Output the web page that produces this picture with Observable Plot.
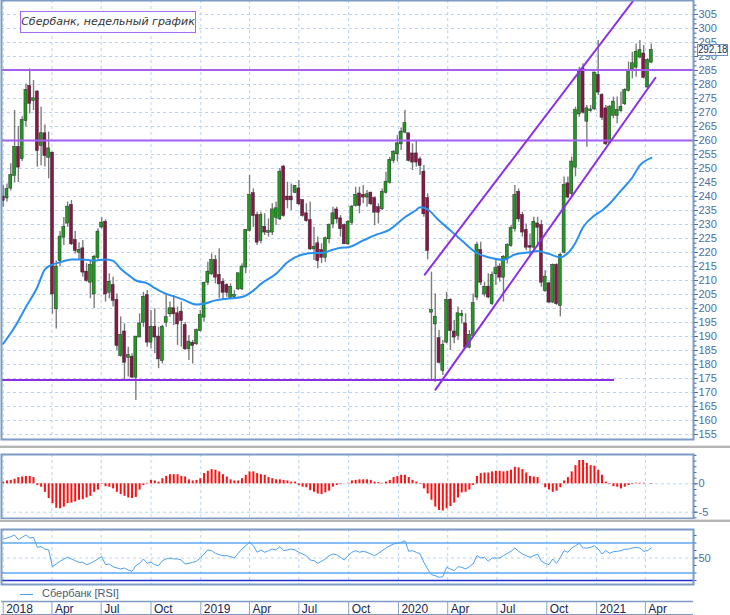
<!DOCTYPE html>
<html><head><meta charset="utf-8">
<script src="https://cdn.jsdelivr.net/npm/d3@7"></script>
<script src="https://cdn.jsdelivr.net/npm/@observablehq/plot@0.6"></script>
<style>
body{margin:0;background:#fff;}
#wrap{position:relative;width:730px;height:615px;overflow:hidden;background:#fff;font-family:"Liberation Sans",Arial,sans-serif;}
#wrap svg{position:absolute;left:0;overflow:visible;}
.sep{position:absolute;left:0;width:730px;}
#title{position:absolute;left:20px;top:11px;width:176px;height:22px;box-sizing:border-box;border:1.5px solid #a66cf0;background:#fff;
 font:italic 11px "DejaVu Sans",sans-serif;color:#333;text-align:center;line-height:19px;white-space:nowrap;}
#price{position:absolute;left:697px;width:31px;height:12px;box-sizing:border-box;border:1px solid #6d8fbf;background:#fff;
 font:10px "Liberation Sans",Arial,sans-serif;color:#1d2d4d;text-align:center;line-height:10px;letter-spacing:-0.2px;}
#legend{position:absolute;left:20px;top:587px;font:11px "Liberation Sans",Arial,sans-serif;color:#4a5a70;white-space:nowrap;}
#legend span.l{display:inline-block;width:13px;height:0;border-top:1px solid #4da0f0;vertical-align:middle;margin-right:9px;}
</style></head><body><div id="wrap"></div>
<script>
// ---- weekly candles, first week starts 2018-01-01 ----
const open = [
239.8,239.5,243,247.5,257.5,253.5,267.1,279.3,274.3,277.3,
258.2,262.4,254,255.5,199.9,217.1,225.5,230.5,236.8,224.3,
220.1,221.3,213,209.4,205.2,218.3,229.1,230.8,205.8,208.2,
202.9,183.2,191.6,182.6,182.6,175.5,189.8,195.1,204.6,188,
193.3,189.8,181.4,195.1,198.1,199.9,198.1,198.7,193.9,185.6,
187.6,187.4,192.1,196.9,209.4,212.4,217.1,211.8,209.4,208.2,
204,204.3,207,207,214.8,227.9,241,233.2,224.3,229,
227.2,227.3,232.6,232,250.5,239.8,239.8,241.5,242.7,238.6,
233.8,231.4,221.3,223.1,220.7,218.3,224.9,230.2,235.2,232,
229.6,223.1,230.8,236.8,240.9,240.4,239.8,241.2,239.2,236,
235.6,241.5,245.1,252.9,255.2,258.8,263,262.4,255.2,255.2,
253.1,248.7,239.2,198.7,194.5,189.2,177.9,188,202.9,191.6,
190.4,197.5,194.5,186.2,190.4,204.1,220.7,205.2,207.6,201.7,
212.4,214.8,211.2,217.7,222.5,228.5,241.5,233.2,227.9,222.1,
221.9,230.2,229.6,206.4,208.8,202.3,215.4,201.1,220.1,244.5,
241,250.5,269.5,285.6,266.9,270.7,271.3,283.2,276.1,271.3,
259.4,269,269,270.7,273.1,277.9,285.6,286.2,289.8,290.9,
279.1,288];
const high = [
244,244.5,251.7,270.7,265,268.5,280.2,285.5,281.4,277.8,
271.9,265.5,263,255.8,217,227.5,232.5,238,238.6,227.5,
223.5,224.3,216,217.1,218.9,228.5,232.4,231.7,212.4,211.2,
205.2,197,194.5,186.2,183.8,189.8,198.1,205.8,206.4,199.3,
199.9,193.3,194,205.2,202.3,204.6,200.5,202.3,195,190.4,
188.6,192.7,199.3,209.4,216.5,219.5,218.9,221.3,210.6,208.8,
208.8,206.4,212.6,216,228.1,247.5,242.7,234.4,234.4,233.8,
232,237.4,238,249.9,251.1,245.1,244.5,243.9,245.7,238.6,
237.4,238,229,225.5,223.1,225.5,230.2,236.2,236.2,233.2,
230.2,231.4,236.8,243.3,243.3,243.9,242.1,241.5,239.8,237.4,
242.7,248.7,254,256.4,261.8,264.5,270.7,262.6,258.8,260,
254,251.1,241,213,205.3,192.1,188.6,205.8,203.5,195.7,
200.5,199.3,198.1,192.1,205.2,223.7,223.7,209.4,212.4,213,
217.1,216,218.9,223.1,229.6,243.9,242.7,234.4,230.2,226.6,
232.6,232.6,231.4,213.5,209.4,215.9,216,219.6,247,247,
254.1,271.9,286.2,287.4,272.5,272.5,284.4,295.7,276.7,272.5,
272.5,275.5,275.5,277.3,278.5,288,291.5,294.5,295.7,293.9,
289.2,294.5];
const low = [
236.2,238,242,245,245,252.5,264.8,269.5,270.7,250.5,
251,250.5,246.3,198,192.7,214.8,222.5,229,222.5,219.5,
217.2,211.2,209.4,203.5,200,217.1,228.4,202.3,203.5,200.5,
185,182.6,174.3,175.5,174.9,167.1,189.8,193.3,186.2,185.6,
183.8,178.5,180.2,193.3,196.9,193.9,186.8,186.2,185,181.4,
180.2,186.8,191.6,195.1,208.2,211.8,208.8,203.5,202.9,204,
203.5,203.5,206.4,206.4,212.4,227.3,229,222.5,223.1,226.1,
225.5,226.1,229.6,231.4,232.6,235.6,235,241,236.8,232.6,
230.8,220.7,217.1,214.2,216,216.5,223.1,228.5,230.2,225.5,
223.1,222.5,229.6,236.2,233.8,237.4,236.2,236.8,229.6,230.2,
235,240.9,244.5,251.7,252.3,256.4,262.4,252.3,249.3,250.5,
247.5,232.6,217.4,174.3,173.7,180.2,176.1,187.4,185,187.4,
188.6,194.5,185.6,185.6,189.8,202.9,208.2,204.1,203.5,201.1,
208.2,209.4,202.3,215.9,221.9,227.3,230.8,225.5,220.7,218.3,
220.7,221.9,207.6,205.8,201.7,201.7,201.1,197,219.5,239.2,
239.8,247,268.3,269.5,257.6,270.1,270.7,276.1,267.1,258.2,
258.8,267.8,266,270.1,272.5,277.3,282,282.6,289.2,282,
278.5,287.4];
const close = [
238.6,242.5,247.5,257.5,250.5,267.1,277.9,273.3,274.9,256.4,
262.4,254.6,257,205.2,214.8,225.5,229,236.2,223.1,220.7,
220.7,213,210,215.4,218.3,227.3,230.5,205.2,209.4,202.9,
186.8,190.4,180.8,183.2,175.5,189.8,194.5,204,188,193.3,
189.8,182,193.3,196.7,199.9,198.1,194.5,195.7,185.6,188,
186.8,192.1,197.5,209,213,217.1,211.2,208.8,205.8,205.8,
207.6,204.6,212.4,214.8,227.9,240.4,233.2,223.7,233.2,227.3,
227.6,235.2,235.6,248.7,233.2,238.8,238.8,243.6,237.4,233.2,
231.4,221.3,221.9,217.1,218.3,224.9,229.6,233.8,232,228.5,
223.1,230.8,236.2,240.4,236.8,239.8,240.6,237.4,234.4,234.4,
241.5,245.1,252.9,255.8,258.8,263,266,252.9,252.3,252.3,
251.1,233.8,220.7,199.3,196.9,180.8,186.8,202.9,192.1,189.8,
198.1,197.9,186.2,190.4,201.7,222.5,209.4,207.6,204.1,211.8,
214.2,211.2,218.3,222.5,228.5,240.4,232,227.3,221.9,221.9,
230.8,229,209.4,211.2,202.3,215.4,201.7,219,243.9,239.8,
252.3,270.7,285,270.1,271.3,270.9,284.1,277.3,268.3,258.8,
271.9,273.7,270.7,271.9,277.9,285,287.4,291.5,292.1,282.6,
288.6,292.18];

// moving average, read at sample weeks
const maWeek = [0,3,6,9,11,13,15,18,21,24,27,29,31,33,35,38,40,43,46,48,51,53,56,59,63,66,68,72,75,79,
82,84,87,89,91,95,98,102,106,109,110,112,115,118,121,125,128,132,135,139,141,144,147,149,151,153,156,158,160,163,166,168,171];
const maValue = [187.4,193.3,200.5,207.6,214,215.7,216.5,217.5,217.5,217.1,217.5,217,214.2,212,210,209,207.3,205.2,203.9,202.9,
201.4,201.7,202.9,203.5,204.1,206.4,208.8,212.4,216.5,219.3,219.8,219.8,221,221.7,221.9,224.3,226.1,228.2,232.6,235.2,
236.2,235.4,231.4,227.9,224.3,219.8,218.3,217.4,219.3,220.1,220.5,219.5,218.3,219.8,223.5,229,233.2,235,237.4,242.1,
246.8,251.1,253.8];

// oscillator histogram
const osc = [
0.3,0.5,0.6,0.8,1.1,1.2,1.3,1.3,1.1,-0.3,
-0.6,-1.5,-2.6,-3.5,-4.3,-4.4,-4.1,-3.5,-3.4,-3.2,
-2.9,-2.8,-2.5,-2.2,-1.5,-1.1,-0.1,-0.5,-0.6,-0.9,
-1.5,-1.9,-2.2,-2.5,-2.6,-2.4,-1.1,-0.3,0.1,0.6,
0.5,0.3,0.9,1.3,1.6,1.6,1.6,1.3,1.2,0.7,
0.5,0.6,0.9,1.8,2.2,2.5,2.4,2.1,1.6,1.2,
0.7,0.5,0.5,0.9,1.5,2.1,2.1,1.8,1.6,1.5,
1.1,0.9,0.7,0.7,0.6,0.5,0.3,0.3,-0.3,-0.6,
-0.7,-1.2,-1.5,-1.8,-1.9,-1.6,-1.3,-0.6,-0.3,-0.1,
0,0.1,0.5,0.6,0.7,0.7,0.7,0.6,0.3,0.2,
0.1,0.3,0.6,1.1,1.3,1.5,1.5,1.1,0.6,0.3,
-0.1,-0.9,-1.8,-2.9,-4.1,-4.7,-4.8,-4.4,-4.0,-3.4,
-2.5,-1.6,-1.5,-1.1,-0.3,1.3,1.8,1.9,1.9,2.1,
2.2,2.2,2.1,2.2,2.4,2.9,2.8,2.5,1.9,1.3,
1.2,1.1,0,-0.7,-1.1,-1.5,-1.3,-0.7,0.5,1.1,
2.1,3.2,4.1,4.1,3.6,3.2,3.1,2.4,1.5,0.3,
-0.1,-0.5,-0.6,-0.9,-0.6,-0.3,-0.1,0.1,0.1,0.1,
0,-0.1];

// RSI
const rsi = [
75.3,76.7,78.4,80.7,74.4,77.6,80.7,76.7,77.6,64.2,
65.1,62,60.7,38.4,42,45.6,48.7,50.9,48.7,46.4,
44.2,44.2,41.1,42.9,45.6,48.7,51.8,41.1,42,38.4,
36.7,35.3,36.7,34,32.2,39.8,42.9,48.7,42.9,44.2,
41.1,39.8,46.4,48.7,50,48.7,48.7,47.3,42,42.9,
44.2,45.6,50,55.3,60.7,59.8,56.2,54.4,53.1,53.1,
51.8,50,56.2,62,66.4,70.9,66.4,57.6,60.7,57.6,
59.8,62,60.7,65.1,59.8,60.7,62,60.7,57.6,55.3,
53.1,47.3,46.4,42.9,45.6,48.7,53.1,55.3,54.4,50.9,
47.3,53.1,57.6,59.8,57.6,58.9,57.6,55.3,53.1,56.2,
59.8,63.3,66.4,68.7,69.6,70.9,73.1,58.9,59.8,57.6,
55.3,44.2,35.3,27.8,26.4,24.2,25.1,37.6,35.3,33.1,
38.4,37.6,35.3,38.4,42,53.1,50,50.9,45.6,50,
50,50,53.1,56.2,58.9,63.3,58.9,55.3,53.1,50.9,
53.1,55.3,45.6,42.9,41.1,48.7,42.9,50.9,59.8,57.6,
63.3,66.4,69.6,63.3,63.3,64.2,66.4,62,55.3,59.8,
56.2,58.4,58.9,59.8,61.6,62,63.3,64.2,63.3,58.9,
59.8,63.3];

// annotations
const levelPrices = [285.2, 260];
const supportPrice = 174.5, supportWeeks = [-1, 161.3];
const upperChannelWeeks = [111.24, 166.3], upperChannelPrices = [212.1, 310];
const lowerChannelWeeks = [114.06, 172.1], lowerChannelPrices = [171, 282.4];
const lastPriceLabel = "292,18";

// ticks
const tickDates = ["2018-01-01","2018-04-01","2018-07-01","2018-10-01","2019-01-01","2019-04-01","2019-07-01","2019-10-01",
"2020-01-01","2020-04-01","2020-07-01","2020-10-01","2021-01-01","2021-04-01"];
const tickLabels = ["2018","Apr","Jul","Oct","2019","Apr","Jul","Oct","2020","Apr","Jul","Oct","2021","Apr"];
const priceTicks = [155,160,165,170,175,180,185,190,195,200,205,210,215,220,225,230,235,240,245,250,255,260,265,270,275,280,285,290,295,300,305];
const oscTicks = [-6,-5,-4,-3,-2,-1,0,1,2,3,4,5];
const oscLabels = [0,-5];
const rsiTicks = [20,30,40,50,60,70,80];
const rsiLabels = [50];
const rsiLevels = [70,30], rsiFloor = 20;

// ---- build ----
const DAY = 864e5;
const weekDate = i => new Date(Date.UTC(2018,0,1) + i*7*DAY);
const dates = open.map((_, i) => weekDate(i));
const candles = dates.map((d, i) => ({date: d, open: open[i], high: high[i], low: low[i], close: close[i]}));
const halfBody = 2.77 * DAY;
const bodies = candles.map(c => ({...c, x1: new Date(+c.date - halfBody), x2: new Date(+c.date + halfBody)}));
const ups = bodies.filter(c => c.close >= c.open), downs = bodies.filter(c => c.close < c.open);
const ma = maWeek.map((w, i) => ({date: weekDate(w), value: maValue[i]}));
const upper = upperChannelWeeks.map((w, i) => ({date: weekDate(w), value: upperChannelPrices[i]}));
const lower = lowerChannelWeeks.map((w, i) => ({date: weekDate(w), value: lowerChannelPrices[i]}));
const support = [{y: supportPrice, x1: weekDate(supportWeeks[0]), x2: weekDate(supportWeeks[1])}];
const qDates = tickDates.map(s => new Date(s + "T00:00:00Z"));
const minorPrice = d3.range(155, 309, 5/3);
const oscData = dates.map((d, i) => ({date: d, v: osc[i]}));
const rsiData = dates.map((d, i) => ({date: d, v: rsi[i]}));

const xScale = () => ({type: "utc", domain: [weekDate(0), new Date(Date.UTC(2021,0,1))], range: [2.7, 596.1], axis: null});
const baseStyle = {background: "transparent", fontFamily: '"Liberation Sans", Arial, sans-serif', fontSize: "11px", overflow: "visible"};
const frameColor = "#7d9bc4", axisColor = "#4a6fa0", gridColor = "#b9d4f2";
const common = {width: 730, marginLeft: 1, marginRight: 37};
const wrap = document.getElementById("wrap");
const minorAxis = ticks => Plot.axisY(ticks, {anchor: "right", tickSize: 2.5, tickFormat: () => "", color: axisColor, label: null});
const majorAxis = ticks => Plot.axisY(ticks, {anchor: "right", tickSize: 4, tickPadding: 1, color: axisColor, tickFormat: d => String(d), label: null});

const main = Plot.plot({
  ...common, height: 441, marginTop: 0, marginBottom: 2,
  x: xScale(), y: {domain: [155, 305], range: [434, 14], axis: null},
  style: baseStyle,
  marks: [
    Plot.gridY(priceTicks, {stroke: gridColor, strokeOpacity: 1, strokeDasharray: "3,3"}),
    Plot.gridX(qDates, {stroke: gridColor, strokeOpacity: 1, strokeDasharray: "3,3"}),
    Plot.ruleX(candles, {x: "date", y1: "low", y2: "high", stroke: "#7c7c7c", strokeWidth: 1.4}),
    Plot.rect(ups, {x1: "x1", x2: "x2", y1: "open", y2: "close", fill: "#1f9c1f", stroke: "#2a2a2a", strokeWidth: 0.5, insetTop: -0.5, insetBottom: -0.5}),
    Plot.rect(downs, {x1: "x1", x2: "x2", y1: "open", y2: "close", fill: "#8b1547", stroke: "#2a2a2a", strokeWidth: 0.5, insetTop: -0.5, insetBottom: -0.5}),
    Plot.line(ma, {x: "date", y: "value", stroke: "#2a8ff0", strokeWidth: 2, curve: "monotone-x"}),
    Plot.ruleY(levelPrices, {stroke: "#a45ef2", strokeWidth: 2}),
    Plot.ruleY(support, {y: "y", x1: "x1", x2: "x2", stroke: "#8c2ee6", strokeWidth: 2, clip: true}),
    Plot.line(upper, {x: "date", y: "value", stroke: "#8c2ee6", strokeWidth: 2, clip: true}),
    Plot.line(lower, {x: "date", y: "value", stroke: "#8c2ee6", strokeWidth: 2, clip: true}),
    Plot.frame({stroke: frameColor, strokeWidth: 2}),
    minorAxis(minorPrice),
    majorAxis(priceTicks)
  ]
});
main.style.top = "0px";
wrap.appendChild(main);

const oscTop = 453, oscZero = 483.3 - oscTop;
const oscPlot = Plot.plot({
  ...common, height: 66, marginTop: 1, marginBottom: 1,
  x: xScale(), y: {domain: [0, -5], range: [oscZero, oscZero + 28.4], axis: null},
  style: baseStyle,
  marks: [
    Plot.gridY(oscLabels, {stroke: gridColor, strokeOpacity: 1, strokeDasharray: "3,3"}),
    Plot.gridX(qDates, {stroke: gridColor, strokeOpacity: 1, strokeDasharray: "3,3"}),
    Plot.ruleX(oscData, {x: "date", y1: 0, y2: "v", stroke: "#ff1010", strokeWidth: 2}),
    Plot.frame({stroke: frameColor, strokeWidth: 2}),
    minorAxis(oscTicks),
    majorAxis(oscLabels)
  ]
});
oscPlot.style.top = oscTop + "px";
wrap.appendChild(oscPlot);

const rsiTop = 528, rsi50 = 557.5 - rsiTop;
const rsiPlot = Plot.plot({
  ...common, height: 57, marginTop: 1, marginBottom: 1,
  x: xScale(), y: {domain: [50, 70], range: [rsi50, rsi50 - 15], axis: null},
  style: baseStyle,
  marks: [
    Plot.gridY(rsiLabels, {stroke: gridColor, strokeOpacity: 1, strokeDasharray: "3,3"}),
    Plot.gridX(qDates, {stroke: gridColor, strokeOpacity: 1, strokeDasharray: "3,3"}),
    Plot.ruleY(rsiLevels, {stroke: "#5caaf2", strokeWidth: 1.5}),
    Plot.ruleY([rsiFloor], {stroke: "#2430d0", strokeWidth: 1.5}),
    Plot.line(rsiData, {x: "date", y: "v", stroke: "#4da0f0", strokeWidth: 1}),
    Plot.frame({stroke: frameColor, strokeWidth: 2}),
    minorAxis(rsiTicks),
    majorAxis(rsiLabels)
  ]
});
rsiPlot.style.top = rsiTop + "px";
wrap.appendChild(rsiPlot);

const axisTop = 600;
const dateAxis = Plot.plot({
  ...common, height: 15, marginTop: 0, marginBottom: 0,
  x: xScale(), y: {domain: [0, 1], range: [14.3, 1], axis: null},
  style: {...baseStyle, fontSize: "12px"},
  marks: [
    Plot.ruleY([0, 1], {stroke: frameColor, strokeWidth: 1.5}),
    Plot.ruleX(qDates, {y1: 0, y2: 1, stroke: "#8aa4c8"}),
    Plot.text(qDates.map((d, i) => ({date: d, label: tickLabels[i]})), {x: "date", y: 0.5, text: "label", textAnchor: "start", dx: 3, dy: 1, fill: "#1a2850"})
  ]
});
dateAxis.style.top = axisTop + "px";
wrap.appendChild(dateAxis);

// separators between panels
for (const t of [445, 519]) {
  const a = document.createElement("div"); a.className = "sep";
  a.style.top = t + "px"; a.style.height = "1px"; a.style.background = "#e2e2e2"; wrap.appendChild(a);
  const b = document.createElement("div"); b.className = "sep";
  b.style.top = (t + 1) + "px"; b.style.height = "2px"; b.style.background = "#b5b5b5"; wrap.appendChild(b);
}

// title, last price label, legend
const title = document.createElement("div"); title.id = "title";
title.textContent = "Сбербанк, недельный график"; wrap.appendChild(title);
const price = document.createElement("div"); price.id = "price";
price.textContent = lastPriceLabel;
price.style.top = (main.scale("y").apply(close[close.length - 1]) - 6) + "px";
wrap.appendChild(price);
const legend = document.createElement("div"); legend.id = "legend";
legend.innerHTML = '<span class="l"></span>Сбербанк [RSI]'; wrap.appendChild(legend);
</script></body></html>
